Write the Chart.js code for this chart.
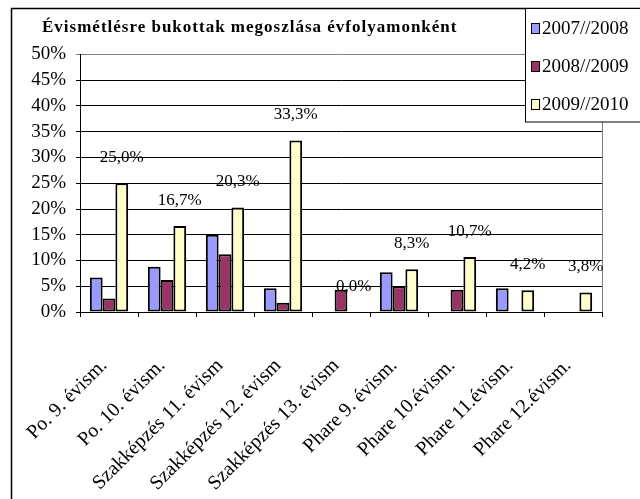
<!DOCTYPE html>
<html lang="hu">
<head>
<meta charset="utf-8">
<title>Évismétlésre bukottak megoszlása évfolyamonként</title>
<script src="https://cdn.jsdelivr.net/npm/chart.js@4.4.1/dist/chart.umd.min.js"></script>
<style>
    html, body { margin: 0; padding: 0; background: #fff; }
    #wrap { position: relative; width: 640px; height: 499px; }
</style>
</head>
<body>
<div id="wrap"><canvas id="bukottChart"></canvas></div>
<script>
// Data Store
const chartTitle = 'Évismétlésre bukottak megoszlása évfolyamonként';
const categories = [
    'Po. 9. évism.', 'Po. 10. évism.', 'Szakképzés 11. évism', 'Szakképzés 12. évism',
    'Szakképzés 13. évism', 'Phare 9. évism.', 'Phare 10.évism.', 'Phare 11.évism.', 'Phare 12.évism.'
];
const seriesNames = ['2007//2008', '2008//2009', '2009//2010'];
const values0708 = [6.7, 8.8, 15.0, 4.6, null, 7.7, null, 4.6, null];
const values0809 = [2.6, 6.2, 11.2, 1.8, 4.3, 5.0, 4.3, null, null];
const values0910 = [25.0, 16.7, 20.3, 33.3, 0.0, 8.3, 10.7, 4.2, 3.8];
const yTicks = [0, 5, 10, 15, 20, 25, 30, 35, 40, 45, 50];
const seriesColors = ['#9999FF', '#993366', '#FFFFCC'];

const serif = "'Liberation Serif', 'Times New Roman', serif";

// frame around the whole picture, title, gray right edge of the plot
const framePlugin = {
    id: 'frame',
    beforeDatasetsDraw(chart) {
        const { ctx, chartArea } = chart;
        ctx.save();
        ctx.strokeStyle = '#808080';
        ctx.lineWidth = 1;
        ctx.beginPath();
        ctx.moveTo(Math.round(chartArea.right) + 0.5, chartArea.top);
        ctx.lineTo(Math.round(chartArea.right) + 0.5, chartArea.bottom);
        ctx.stroke();
        ctx.restore();
    },
    afterDraw(chart) {
        const ctx = chart.ctx;
        ctx.save();
        ctx.strokeStyle = '#000';
        ctx.lineWidth = 1.5;
        ctx.beginPath();
        ctx.moveTo(11.5, 499);
        ctx.lineTo(11.5, 8.5);
        ctx.lineTo(640, 8.5);
        ctx.stroke();

        ctx.fillStyle = '#000';
        ctx.font = 'bold 17px ' + serif;
        ctx.letterSpacing = '1px';
        ctx.textAlign = 'left';
        ctx.textBaseline = 'middle';
        ctx.fillText(chartTitle, 42, 28);
        ctx.restore();
    }
};

// percentage labels above the 2009//2010 bars
const valueLabels = {
    id: 'valueLabels',
    afterDatasetsDraw(chart) {
        const ctx = chart.ctx;
        const meta = chart.getDatasetMeta(2);
        const yScale = chart.scales.y;
        const step = yScale.getPixelForValue(0) - yScale.getPixelForValue(5);
        ctx.save();
        ctx.font = '17px ' + serif;
        ctx.fillStyle = '#000';
        ctx.textAlign = 'center';
        ctx.textBaseline = 'middle';
        meta.data.forEach((bar, i) => {
            const v = values0910[i];
            if (v === null) return;
            ctx.fillText(v.toFixed(1).replace('.', ',') + '%', bar.x, bar.y - step);
        });
        ctx.restore();
    }
};

// legend box sitting over the top right corner of the plot
const boxLegend = {
    id: 'boxLegend',
    afterDraw(chart) {
        const ctx = chart.ctx;
        ctx.save();
        ctx.fillStyle = '#fff';
        ctx.strokeStyle = '#000';
        ctx.lineWidth = 1;
        ctx.fillRect(525.5, 8.5, 120, 113.5);
        ctx.strokeRect(525.5, 8.5, 120, 113.5);
        ctx.font = '19px ' + serif;
        ctx.textBaseline = 'middle';
        chart.data.datasets.forEach((ds, i) => {
            const cy = 28.5 + i * 38;
            ctx.fillStyle = ds.backgroundColor;
            ctx.fillRect(531.5, cy - 5, 8, 10);
            ctx.strokeRect(531.5, cy - 5, 8, 10);
            ctx.fillStyle = '#000';
            ctx.fillText(ds.label, 542, cy + 1);
        });
        ctx.restore();
    }
};

document.addEventListener('DOMContentLoaded', function() {
    const ctx = document.getElementById('bukottChart').getContext('2d');
    const seriesData = [values0708, values0809, values0910];

    new Chart(ctx, {
        type: 'bar',
        data: {
            labels: categories,
            datasets: seriesNames.map((name, i) => ({
                label: name,
                data: seriesData[i],
                backgroundColor: seriesColors[i],
                borderColor: '#000',
                borderWidth: 2,
                borderSkipped: false,
                barPercentage: 1.0,
                categoryPercentage: 0.66
            }))
        },
        options: {
            responsive: true,
            maintainAspectRatio: false,
            animation: false,
            layout: { padding: { left: 12, right: 38, top: 54.5, bottom: 0 } },
            scales: {
                x: {
                    grid: { drawOnChartArea: false, color: '#000', tickLength: 5, lineWidth: 1 },
                    border: { color: '#000', width: 1 },
                    ticks: {
                        autoSkip: false,
                        minRotation: 45,
                        maxRotation: 45,
                        padding: 37,
                        labelOffset: -5,
                        color: '#000',
                        font: { family: serif, size: 20 }
                    },
                    afterFit(scale) {
                        scale.height = 187;
                        scale.paddingLeft = 0;
                        scale.paddingRight = 0;
                    }
                },
                y: {
                    min: 0,
                    max: 50,
                    afterBuildTicks(scale) { scale.ticks = yTicks.map(v => ({ value: v })); },
                    grid: {
                        color: c => (c.tick && c.tick.value === 50 ? '#808080' : '#000'),
                        tickLength: 4,
                        lineWidth: 1
                    },
                    border: { color: '#000', width: 1 },
                    ticks: {
                        autoSkip: false,
                        padding: 10,
                        color: '#000',
                        font: { family: serif, size: 19 },
                        callback: v => v + '%'
                    },
                    afterFit(scale) {
                        scale.width = 68;
                        scale.paddingTop = 0;
                        scale.paddingBottom = 0;
                    }
                }
            },
            plugins: {
                legend: { display: false },
                tooltip: { enabled: false },
                title: { display: false }
            }
        },
        plugins: [framePlugin, valueLabels, boxLegend]
    });
});
</script>
</body>
</html>
